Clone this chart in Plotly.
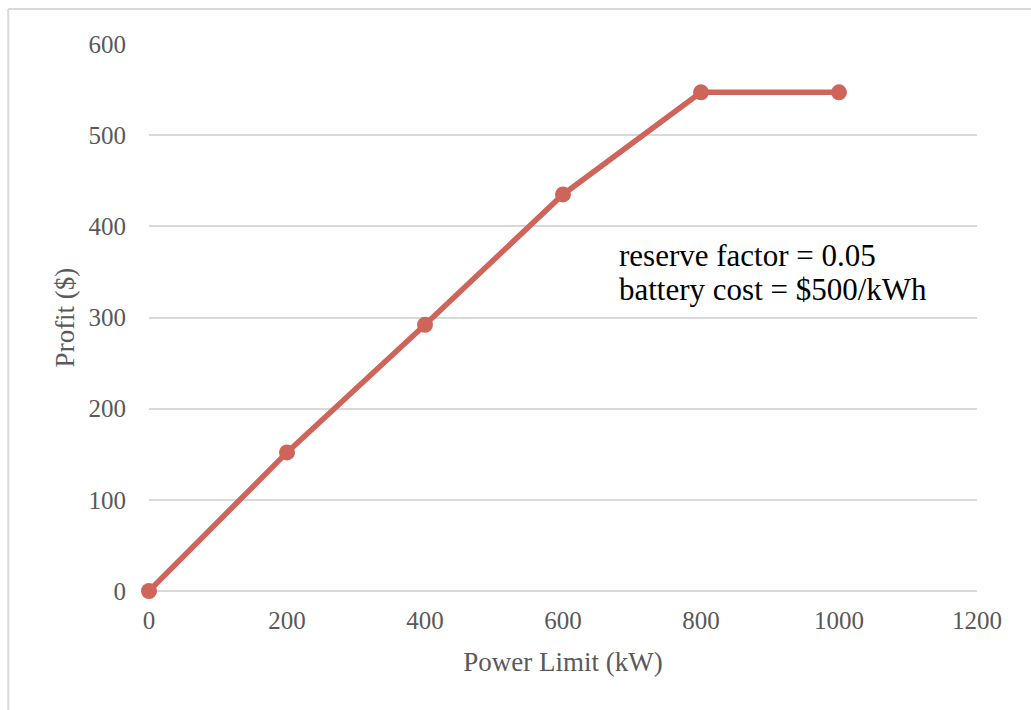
import plotly.graph_objects as go

# Profit versus power limit
power_limit_kw = [0, 200, 400, 600, 800, 1000]
profit_usd = [0, 152, 292, 435, 547, 547]

x_ticks = [0, 200, 400, 600, 800, 1000, 1200]
y_ticks = [0, 100, 200, 300, 400, 500, 600]

note_lines = ["reserve factor = 0.05", "battery cost = $500/kWh"]

line_color = "#CF645B"
serif = "Liberation Serif, DejaVu Serif, serif"

fig = go.Figure()
fig.add_trace(go.Scatter(
    x=power_limit_kw,
    y=profit_usd,
    mode="lines+markers",
    line=dict(color=line_color, width=5.5),
    marker=dict(color=line_color, size=16),
    showlegend=False,
    cliponaxis=False,
))

# two-line note, placed line by line for tighter spacing
for i, txt in enumerate(note_lines):
    fig.add_annotation(
        x=678, y=368 - 37 * i, xref="x", yref="y",
        text=txt, showarrow=False, xanchor="left", yanchor="middle",
        font=dict(family=serif, size=31, color="#000000"),
    )

# light frame along the top and left edges
fig.add_shape(type="line", xref="paper", yref="paper",
              x0=-0.170, x1=1.1, y0=1.064, y1=1.064,
              line=dict(color="#D9D9D9", width=2))
fig.add_shape(type="line", xref="paper", yref="paper",
              x0=-0.170, x1=-0.170, y0=1.064, y1=-0.25,
              line=dict(color="#D9D9D9", width=2))

fig.update_layout(
    width=1031, height=710,
    margin=dict(l=149, r=54, t=44, b=119),
    paper_bgcolor="white", plot_bgcolor="white",
    font=dict(family=serif, color="#595959", size=25),
    xaxis=dict(
        range=[0, 1200], tickvals=x_ticks, showgrid=False, zeroline=False,
        showline=False, ticks="", ticklabelstandoff=12, tickfont=dict(size=25),
        title=dict(text="Power Limit (kW)", font=dict(size=27), standoff=19),
        fixedrange=True,
    ),
    yaxis=dict(
        range=[0, 600], tickvals=y_ticks, showgrid=True, gridcolor="#D9D9D9",
        gridwidth=1.5, zeroline=True, zerolinecolor="#D9D9D9", zerolinewidth=1.5,
        showline=False, ticks="", ticklabelstandoff=22, tickfont=dict(size=25),
        title=dict(text="Profit ($)", font=dict(size=27), standoff=6),
        fixedrange=True,
    ),
)

fig.write_html("out.html")
